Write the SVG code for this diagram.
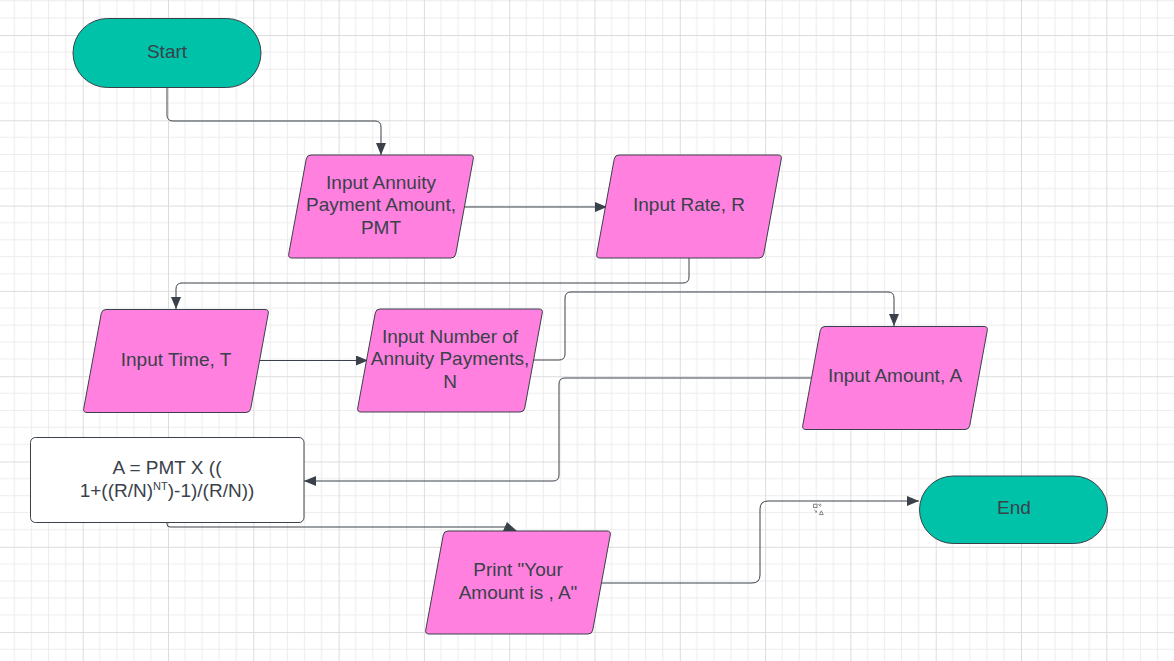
<svg xmlns="http://www.w3.org/2000/svg" xmlns:xlink="http://www.w3.org/1999/xlink" width="1174" height="661" viewBox="0 0 1174 661">
  <style>
    .txt { font-family: "Liberation Sans", Arial, sans-serif; font-size: 19px; fill: #3a414a; text-anchor: middle; }
    .term { fill: #00c2a8; stroke: #3a414a; stroke-width: 1; }
    .io { fill: #ff80df; stroke: #3a414a; stroke-width: 1; }
    .proc { fill: #ffffff; stroke: #3a414a; stroke-width: 1; }
    .conn { fill: none; stroke: #3a414a; stroke-width: 1; }
    .arrow { marker-end: url(#ah); }
  </style>
  <defs>
    <pattern id="grid" patternUnits="userSpaceOnUse" x="82.7" y="35" width="85.3" height="85.3">
      <g stroke="#ececec" stroke-width="1">
        <line x1="17.06" y1="0" x2="17.06" y2="85.3"/>
        <line x1="34.12" y1="0" x2="34.12" y2="85.3"/>
        <line x1="51.18" y1="0" x2="51.18" y2="85.3"/>
        <line x1="68.24" y1="0" x2="68.24" y2="85.3"/>
        <line x1="0" y1="17.06" x2="85.3" y2="17.06"/>
        <line x1="0" y1="34.12" x2="85.3" y2="34.12"/>
        <line x1="0" y1="51.18" x2="85.3" y2="51.18"/>
        <line x1="0" y1="68.24" x2="85.3" y2="68.24"/>
      </g>
      <g stroke="#dcdcdc" stroke-width="1">
        <line x1="0.5" y1="0" x2="0.5" y2="85.3"/>
        <line x1="0" y1="0.5" x2="85.3" y2="0.5"/>
      </g>
    </pattern>
    <marker id="ah" markerUnits="userSpaceOnUse" markerWidth="12" markerHeight="10" refX="12" refY="5" orient="auto">
      <path d="M0,0 L12,5 L0,10 Z" fill="#3a414a"/>
    </marker>
    <path id="para" d="M23,0 H182 Q186,0 185.27,3.93 L167.73,99.07 Q167,103 163,103 H4 Q0,103 0.73,99.07 L18.27,3.93 Q19,0 23,0 Z"/>
  </defs>

  <rect x="0" y="0" width="1174" height="661" fill="#ffffff"/>
  <rect x="0" y="0" width="1174" height="661" fill="url(#grid)"/>

  <g id="connectors">
    <path class="conn arrow" d="M167,87 V115 Q167,121 173,121 H375 Q381,121 381,127 V155"/>
    <path class="conn arrow" d="M464,207 H607"/>
    <path class="conn arrow" d="M689,258 V277 Q689,283 683,283 H182 Q176,283 176,289 V309"/>
    <path class="conn arrow" d="M260,360.5 H368"/>
    <path class="conn arrow" d="M533,360 H559 Q565,360 565,354 V298 Q565,292 571,292 H888 Q894,292 894,298 V326"/>
    <path class="conn arrow" d="M811,378 H565 Q559,378 559,384 V475 Q559,481 553,481 H304"/>
    <path class="conn" d="M167,523 V524 Q167,527 170,527 H506"/>
    <polygon points="503,531 507,522 517,531" fill="#3a414a"/>
    <path class="conn arrow" d="M601,583 H752 Q760,583 760,575 V509 Q760,501 768,501 H919"/>
  </g>

  <g id="start">
    <rect class="term" x="73" y="18.5" width="188" height="69" rx="34.5" ry="34.5"/>
    <text class="txt" x="167" y="57.5">Start</text>
  </g>

  <g id="input-pmt">
    <use xlink:href="#para" href="#para" class="io" x="288" y="155"/>
    <text class="txt" x="381" y="188.5">Input Annuity</text>
    <text class="txt" x="381" y="211">Payment Amount,</text>
    <text class="txt" x="381" y="233.5">PMT</text>
  </g>

  <g id="input-rate">
    <use xlink:href="#para" href="#para" class="io" x="596" y="155"/>
    <text class="txt" x="689" y="211">Input Rate, R</text>
  </g>

  <g id="input-time">
    <use xlink:href="#para" href="#para" class="io" x="83" y="309.5"/>
    <text class="txt" x="176" y="365.5">Input Time, T</text>
  </g>

  <g id="input-number">
    <use xlink:href="#para" href="#para" class="io" x="357" y="309"/>
    <text class="txt" x="450" y="342.7">Input Number of</text>
    <text class="txt" x="450" y="365.2">Annuity Payments,</text>
    <text class="txt" x="450" y="387.7">N</text>
  </g>

  <g id="input-amount">
    <use xlink:href="#para" href="#para" class="io" x="802" y="326.5"/>
    <text class="txt" x="895" y="382">Input Amount, A</text>
  </g>

  <g id="formula">
    <rect class="proc" x="30.5" y="437.5" width="273.5" height="85" rx="5" ry="5"/>
    <text class="txt" x="167" y="474">A = PMT X ((</text>
    <text class="txt" x="167" y="497">1+((R/N)<tspan font-size="11" dy="-7.5">NT</tspan><tspan dy="7.5">)-1)/(R/N))</tspan></text>
  </g>

  <g id="print">
    <use xlink:href="#para" href="#para" class="io" x="425" y="531"/>
    <text class="txt" x="518" y="576">Print "Your</text>
    <text class="txt" x="518" y="598.5">Amount is , A"</text>
  </g>

  <g id="end">
    <rect class="term" x="919.5" y="476" width="188" height="67.5" rx="33.75" ry="33.75"/>
    <text class="txt" x="1014" y="513.5">End</text>
  </g>

  <g id="icon" fill="none" stroke="#7a7a7a" stroke-width="0.9">
    <rect x="813.6" y="504.2" width="3.4" height="3.4"/>
    <path d="M818.3,504.3 L820.6,506.6 M819.4,504.2 L820.7,504.2 L820.7,505.5"/>
    <path d="M814.2,509.8 L816.5,512.1 M816.5,510.8 L816.5,512.1 L815.2,512.1"/>
    <polygon points="819.4,514.6 821.3,510.8 823.2,514.6"/>
  </g>
</svg>
